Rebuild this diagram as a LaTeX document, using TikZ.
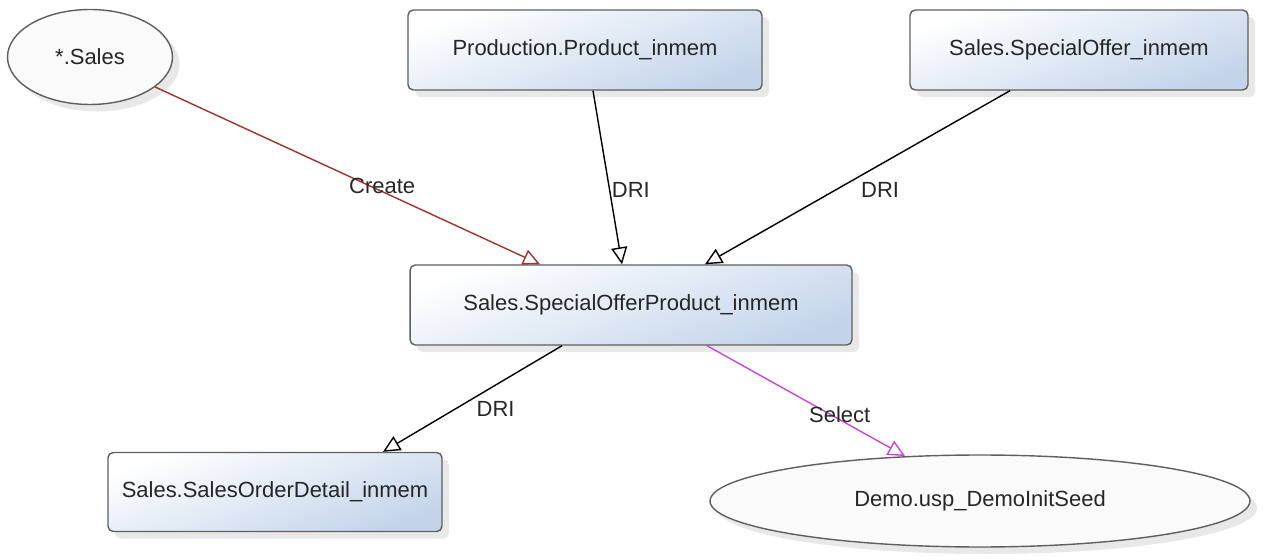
\documentclass[tikz,border=0pt]{standalone}
\usepackage{fontspec}
\setmainfont{Liberation Sans}
\usepackage{tikz}
\usetikzlibrary{arrows.meta,shapes.geometric,shadows}
\definecolor{boxblue}{RGB}{195,212,234}
\definecolor{edgegray}{RGB}{95,95,95}
\definecolor{createred}{RGB}{160,50,45}
\definecolor{selectpink}{RGB}{200,70,215}

\begin{document}
\begin{tikzpicture}[x=0.02cm, y=-0.02cm,
  every node/.style={font=\fontsize{12.5}{15}\selectfont, text=black!85},
  tbl/.style={draw=edgegray, thick, rounded corners=3pt, minimum height=1.6cm,
    top color=white, bottom color=boxblue, shading angle=20,
    drop shadow={shadow xshift=4pt, shadow yshift=-4pt, fill=black!30, opacity=0.3}},
  proc/.style={draw=edgegray, thick, ellipse, inner sep=0pt, fill=black!2,
    drop shadow={shadow xshift=4pt, shadow yshift=-4pt, fill=black!30, opacity=0.3}},
  dep/.style={-{Triangle[open, length=0.34cm, width=0.32cm]}, thick},
  lbl/.style={inner sep=1pt}]
\useasboundingbox (0,0) rectangle (1278,560);
\node[proc, minimum width=3.3cm, minimum height=1.9cm] (sales) at (90,57) {*.Sales};
\node[tbl, minimum width=7.08cm] (prod) at (585,50) {Production.Product\_inmem};
\node[tbl, minimum width=6.76cm] (offer) at (1079,50) {Sales.SpecialOffer\_inmem};
\node[tbl, minimum width=8.84cm] (sop) at (631,305) {Sales.SpecialOfferProduct\_inmem};
\node[tbl, minimum width=6.68cm, minimum height=1.58cm] (sod) at (275,492) {Sales.SalesOrderDetail\_inmem};
\node[proc, minimum width=10.8cm, minimum height=1.84cm] (demo) at (980,501) {Demo.usp\_DemoInitSeed};
\draw[dep, createred] (sales) -- node[lbl, pos=.59, yshift=3pt]{Create} ([xshift=-1.82cm]sop.north);
\draw[dep] ([xshift=0.16cm]prod.south) -- node[lbl, pos=.57, right]{DRI} ([xshift=-0.18cm]sop.north);
\draw[dep] ([xshift=-1.38cm]offer.south) -- node[lbl, pos=.57, xshift=0.88cm]{DRI} ([xshift=1.48cm]sop.north);
\draw[dep] ([xshift=-1.38cm]sop.south) -- node[lbl, pos=.6, xshift=0.82cm]{DRI} ([xshift=2.16cm]sod.north);
\draw[dep, selectpink] ([xshift=1.52cm]sop.south) -- node[lbl, pos=.67, yshift=3pt]{Select} ([xshift=-1.5cm, yshift=-1pt]demo.north);
\end{tikzpicture}
\end{document}
